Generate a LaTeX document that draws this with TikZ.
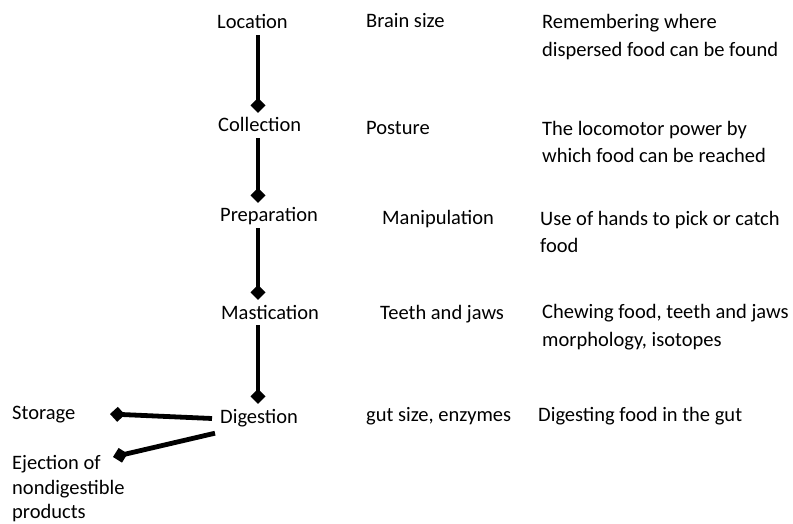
\documentclass[tikz,border=0pt]{standalone}
\usepackage{fontspec}
\setmainfont{Carlito}
\usetikzlibrary{arrows.meta}

\begin{document}
\begin{tikzpicture}[x=1pt,y=-1pt,
        stage/.style={anchor=base west,inner xsep=2pt,inner ysep=6pt,text height=13pt,text depth=0pt,font=\fontsize{20.5}{27}\selectfont},
        note/.style={anchor=west,align=left,inner sep=0pt,font=\fontsize{20.5}{27.5}\selectfont},
        feed/.style={line width=4.8pt,-{Diamond[length=15pt,width=15pt]}}]
    \useasboundingbox (0,0) rectangle (793,524);

    % feeding stages
    \node (loc) at (215,29) [stage]{Location};
    \node (col) at (216,132) [stage]{Collection};
    \node (prep) at (218,222) [stage]{Preparation};
    \node (mast) at (219,319) [stage]{Mastication};
    \node (dig) at (218,423) [stage]{Digestion};
    \node (sto) at (12,415) [note]{Storage};
    \node (ej) at (12,489) [note,font=\fontsize{20.5}{24.5}\selectfont]{Ejection of\\nondigestible\\products};
    \coordinate (spine) at (258,0);
    \coordinate (stotip) at (110,414);
    \coordinate (ejtip) at (113,457);

    \draw[feed] (loc.south -| spine) -- (col.north -| spine);
    \draw[feed] (col.south -| spine) -- (prep.north -| spine);
    \draw[feed] (prep.south -| spine) -- (mast.north -| spine);
    \draw[feed] (mast.south -| spine) -- (dig.north -| spine);
    \draw[feed] ([xshift=-6pt,yshift=-2pt]dig.west) -- (stotip);
    \draw[feed] ([xshift=-3pt,yshift=-4pt]dig.south west) -- (ejtip);

    % anatomy
    \node (brain) at (366,21) [note]{Brain size};
    \node (post) at (366,128) [note]{Posture};
    \node (manip) at (382,219) [note]{Manipulation};
    \node (teeth) at (380,314) [note]{Teeth and jaws};
    \node (gut) at (366,416) [note]{gut size, enzymes};

    % function
    \node (fbrain) at (542,37) [note]{Remembering where\\dispersed food can be found};
    \node (fpost) at (542,142) [note]{The locomotor power by\\which food can be reached};
    \node (fmanip) at (540,232) [note]{Use of hands to pick or catch\\food};
    \node (fteeth) at (542,327) [note]{Chewing food, teeth and jaws\\morphology, isotopes};
    \node (fgut) at (538,416) [note]{Digesting food in the gut};
\end{tikzpicture}
\end{document}
